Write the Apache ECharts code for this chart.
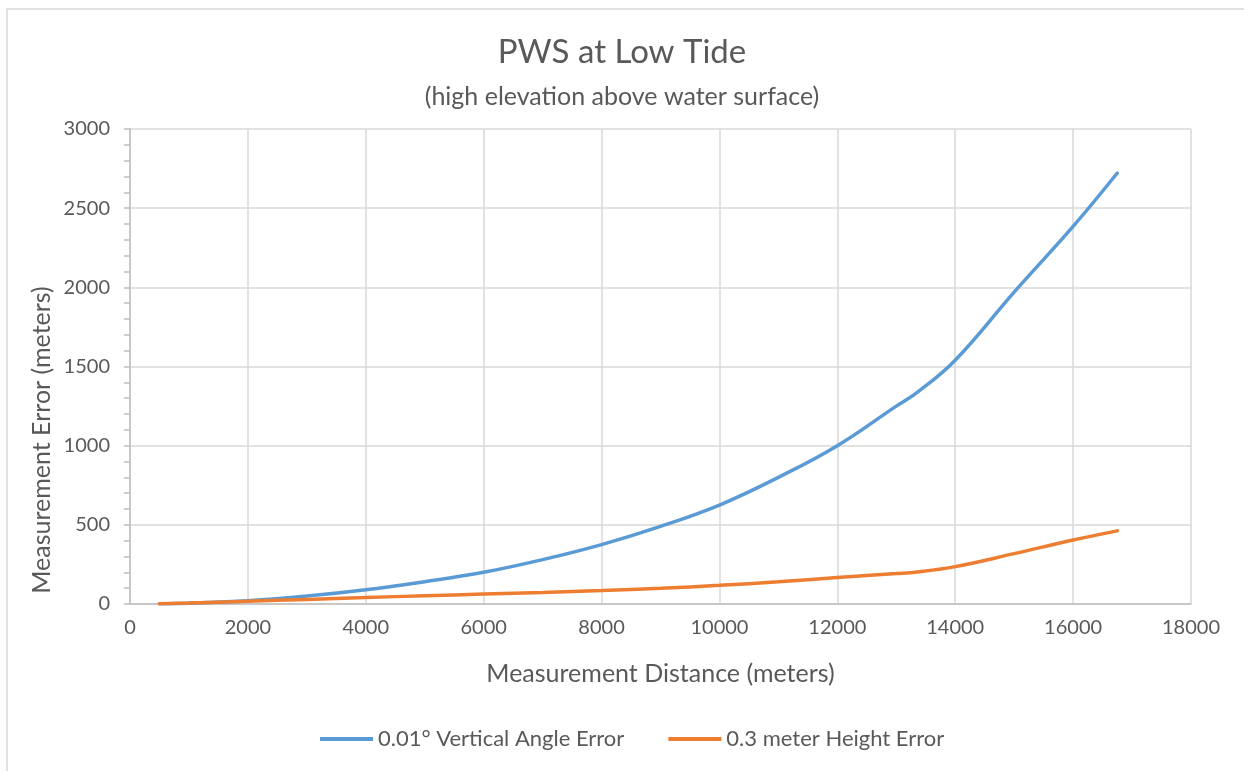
<!DOCTYPE html>
<html>
<head>
<meta charset="utf-8">
<title>PWS at Low Tide</title>
<script src="https://cdn.jsdelivr.net/npm/echarts@6/dist/echarts.min.js"></script>
<style>
  html, body { margin: 0; padding: 0; background: #ffffff; }
  #chart { width: 1244px; height: 771px; }
</style>
</head>
<body>
<div id="chart"></div>
<script>
// Measurement distance (m) at which each error was computed
const distances = [500, 1000, 2000, 3000, 4000, 5000, 6000, 7000, 8000, 9000, 10000,
                   11000, 12000, 13000, 13350, 14000, 15000, 16000, 16750];
// Error caused by a 0.01° vertical angle error (m)
const angleError = [1, 5, 21, 50, 90, 141, 200, 280, 375, 490, 625,
                    800, 1000, 1250, 1335, 1540, 1970, 2385, 2722];
// Error caused by a 0.3 m height error (m)
const heightError = [2, 6, 17, 29, 41, 52, 63, 73, 85, 99, 118,
                     140, 167, 192, 202, 236, 318, 404, 462];
const seriesNames = ['0.01° Vertical Angle Error', '0.3 meter Height Error'];

const textColor = '#595959';
const fontFamily = 'Lato, "Open Sans", sans-serif';

const pairs = (xs, ys) => xs.map((x, i) => [x, ys[i]]);
const plain = v => String(v);

const chart = echarts.init(document.getElementById('chart'), null, { renderer: 'canvas' });

chart.setOption({
  backgroundColor: '#ffffff',
  animation: false,
  textStyle: { fontFamily: fontFamily, color: textColor },
  title: [
    {
      text: 'PWS at Low Tide',
      left: 'center',
      top: 31,
      textStyle: { fontSize: 33, fontWeight: 'normal', color: textColor, fontFamily: fontFamily }
    },
    {
      text: '(high elevation above water surface)',
      left: 'center',
      top: 79,
      textStyle: { fontSize: 25, fontWeight: 'normal', color: textColor, fontFamily: fontFamily }
    }
  ],
  legend: {
    bottom: 21,
    left: 320,
    padding: 0,
    itemWidth: 53,
    itemHeight: 4,
    itemGap: 44,
    icon: 'rect',
    textStyle: { fontSize: 22, color: textColor, fontFamily: fontFamily },
    data: seriesNames
  },
  grid: { left: 130, right: 53, top: 129, bottom: 167 },
  xAxis: {
    type: 'value',
    min: 0,
    max: 18000,
    interval: 2000,
    name: 'Measurement Distance (meters)',
    nameLocation: 'middle',
    nameGap: 57,
    nameTextStyle: { fontSize: 25, color: textColor },
    axisLine: { show: true, lineStyle: { color: '#bfbfbf', width: 1.5 } },
    axisTick: { show: false },
    axisLabel: { fontSize: 20, color: textColor, margin: 14, formatter: plain },
    splitLine: { show: true, lineStyle: { color: '#d9d9d9', width: 1.5 } }
  },
  yAxis: {
    type: 'value',
    min: 0,
    max: 3000,
    interval: 500,
    axisLine: { show: true, lineStyle: { color: '#bfbfbf', width: 1.5 } },
    axisTick: { show: true, inside: false, length: 6, lineStyle: { color: '#bfbfbf', width: 1.5 } },
    minorTick: { show: true, splitNumber: 5, length: 6, lineStyle: { color: '#bfbfbf', width: 1.5 } },
    axisLabel: { fontSize: 20, color: textColor, margin: 20, formatter: plain },
    splitLine: { show: true, lineStyle: { color: '#d9d9d9', width: 1.5 } }
  },
  graphic: [
    {
      type: 'rect',
      silent: true,
      shape: { x: 7, y: 9, width: 1260, height: 790 },
      style: { fill: 'none', stroke: '#d9d9d9', lineWidth: 1.5 }
    },
    {
      type: 'text',
      silent: true,
      x: 42,
      y: 440,
      rotation: Math.PI / 2,
      style: {
        text: 'Measurement Error (meters)',
        fontSize: 25,
        fontFamily: fontFamily,
        fill: textColor,
        align: 'center',
        verticalAlign: 'middle'
      }
    }
  ],
  series: [
    {
      name: seriesNames[0],
      type: 'line',
      data: pairs(distances, angleError),
      smooth: 0.4,
      showSymbol: false,
      lineStyle: { color: '#5b9bd5', width: 3.5, cap: 'round' },
      itemStyle: { color: '#5b9bd5' },
      z: 3
    },
    {
      name: seriesNames[1],
      type: 'line',
      data: pairs(distances, heightError),
      smooth: 0.4,
      showSymbol: false,
      lineStyle: { color: '#ed7d31', width: 3.5, cap: 'round' },
      itemStyle: { color: '#ed7d31' },
      z: 4
    }
  ]
});
</script>
</body>
</html>
